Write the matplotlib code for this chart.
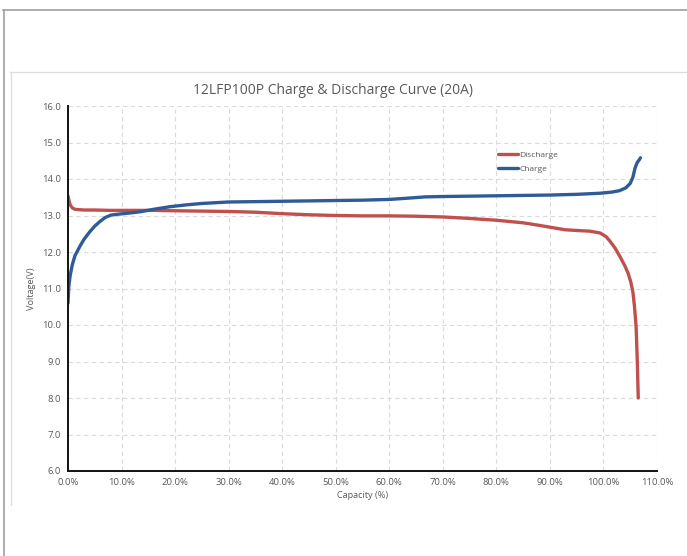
import matplotlib
matplotlib.use("Agg")
import matplotlib.pyplot as plt
from matplotlib.lines import Line2D
from matplotlib.ticker import FuncFormatter

# ---- data ----
dis_cap = [0.0, 0.2, 0.4, 0.8, 1.3, 2.0, 3.0, 5.0, 8.0, 12.0, 16.0, 20.0, 25.0, 30.0,
           35.0, 40.0, 45.0, 50.0, 55.0, 60.0, 65.0, 70.0, 75.0, 80.0, 85.0, 88.0,
           90.0, 92.8, 95.0, 97.5, 99.4, 100.5, 101.2, 102.2, 103.1, 104.0, 104.6,
           105.1, 105.5, 105.8, 106.1, 106.3, 106.4, 106.5]
dis_v = [13.53, 13.40, 13.29, 13.21, 13.17, 13.16, 13.15, 13.15, 13.14, 13.14, 13.14,
         13.13, 13.12, 13.11, 13.09, 13.05, 13.02, 13.00, 12.99, 12.99, 12.98, 12.96,
         12.92, 12.87, 12.80, 12.73, 12.68, 12.61, 12.59, 12.57, 12.52, 12.42, 12.30,
         12.10, 11.87, 11.62, 11.42, 11.18, 10.90, 10.50, 9.95, 9.10, 8.55, 8.00]

chg_cap = [0.0, 0.15, 0.4, 0.8, 1.3, 2.2, 3.0, 4.1, 5.0, 6.0, 7.0, 8.0, 9.0, 11.0,
           13.4, 16.0, 19.0, 22.0, 25.0, 30.0, 35.0, 40.0, 45.0, 50.0, 55.0, 60.0,
           63.0, 66.7, 70.0, 80.0, 90.0, 95.0, 99.4, 101.5, 103.0, 104.2, 105.0,
           105.5, 105.9, 106.3, 106.7, 106.9]
chg_v = [10.60, 11.05, 11.35, 11.65, 11.90, 12.15, 12.35, 12.56, 12.71, 12.84, 12.95,
         13.01, 13.03, 13.06, 13.10, 13.17, 13.24, 13.29, 13.33, 13.37, 13.38, 13.39,
         13.40, 13.41, 13.42, 13.44, 13.47, 13.51, 13.52, 13.54, 13.56, 13.58, 13.61,
         13.64, 13.68, 13.76, 13.88, 14.05, 14.30, 14.45, 14.53, 14.58]

x_ticks = [0, 10, 20, 30, 40, 50, 60, 70, 80, 90, 100, 110]
y_ticks = [6, 7, 8, 9, 10, 11, 12, 13, 14, 15, 16]

title = "12LFP100P Charge & Discharge Curve (20A)"
RED = "#C0504D"
BLUE = "#2F5C96"
GRAY = "#595959"

plt.rcParams['font.family'] = ['Open Sans', 'DejaVu Sans']

W, H = 687, 556
fig = plt.figure(figsize=(W / 100, H / 100), dpi=100)
fig.patch.set_facecolor("white")

# page frame lines
def fline(x0, y0, x1, y1, color, lw):
    fig.add_artist(Line2D([x0 / W, x1 / W], [1 - y0 / H, 1 - y1 / H],
                          transform=fig.transFigure, color=color, lw=lw))

fline(3, 9.5, 687, 9.5, "#A0A0A0", 1.2)
fline(4, 9.5, 4, 556, "#A0A0A0", 1.2)
fline(10, 71.5, 687, 71.5, "#DDDDDD", 0.9)
fline(10.5, 71.5, 10.5, 505, "#DDDDDD", 0.9)

left, right, top, bottom = 68, 657, 106, 471
ax = fig.add_axes([left / W, 1 - bottom / H, (right - left) / W, (bottom - top) / H])

ax.plot(dis_cap, dis_v, color=RED, lw=2.4, label="Discharge", solid_capstyle="round",
        solid_joinstyle="round", zorder=3)
ax.plot(chg_cap, chg_v, color=BLUE, lw=2.4, label="Charge", solid_capstyle="round",
        solid_joinstyle="round", zorder=3)

ax.set_xlim(0, 110)
ax.set_ylim(6, 16)
ax.set_xticks(x_ticks)
ax.set_yticks(y_ticks)
ax.xaxis.set_major_formatter(FuncFormatter(lambda v, p: f"{v:.1f}%"))
ax.yaxis.set_major_formatter(FuncFormatter(lambda v, p: f"{v:.1f}"))
ax.tick_params(length=0, labelsize=6.8, colors=GRAY, pad=5)
ax.grid(True, color="#DADADA", ls=(0, (4, 3)), lw=0.8)
ax.set_axisbelow(True)
for s in ("top", "right"):
    ax.spines[s].set_visible(False)
for s in ("left", "bottom"):
    ax.spines[s].set_color("#111111")
    ax.spines[s].set_linewidth(1.4)
    ax.spines[s].set_zorder(4)

ax.set_xlabel("Capacity (%)", fontsize=6.6, color=GRAY, labelpad=3)
ax.set_ylabel("Voltage(V)", fontsize=6.6, color=GRAY, labelpad=4)

fig.text(333 / W, 1 - 90 / H, title, ha="center", va="center", fontsize=10, color=GRAY)

leg = ax.legend(loc="upper left", bbox_to_anchor=((494 - left) / (right - left), (471 - 147) / (bottom - top)),
                frameon=False, fontsize=6.0, handlelength=2.4, handletextpad=0.1,
                labelspacing=0.75, borderpad=0)
for t in leg.get_texts():
    t.set_color(GRAY)

fig.savefig("out.png", dpi=100)
